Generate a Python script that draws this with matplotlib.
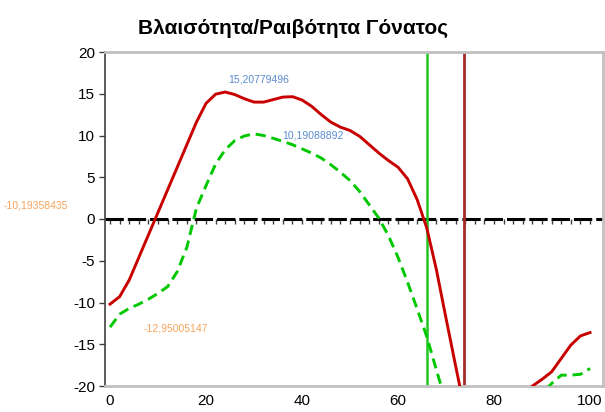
import numpy as np
import matplotlib
matplotlib.use("Agg")
import matplotlib.pyplot as plt

plt.rcParams['font.family'] = ['Liberation Sans', 'DejaVu Sans']
plt.rcParams['axes.unicode_minus'] = False

# gait cycle (%) every 2%
cycle = list(range(0, 101, 2))

# knee varus/valgus, left (red, solid)
red_vals = [-10.19358435, -9.3, -7.3, -4.6, -1.9, 0.8, 3.5, 6.2, 8.9, 11.6,
            13.85, 14.95, 15.20779496, 14.9, 14.4, 14.0, 14.0, 14.3, 14.6, 14.65,
            14.25, 13.5, 12.5, 11.6, 11.0, 10.6, 9.9, 8.9, 7.9, 7.0,
            6.2, 4.8, 2.3, -1.1, -6.1, -11.9, -17.6, -23.2, -26.5, -28.5,
            -28.0, -26.5, -24.0, -21.3, -20.0, -19.2, -18.3, -16.7, -15.1, -14.0,
            -13.6]

# knee varus/valgus, right (green, dashed)
green_vals = [-12.95005147, -11.4, -10.7, -10.2, -9.6, -8.9, -8.1, -6.3, -3.4, 1.3,
              4.0, 6.6, 8.3, 9.4, 9.95, 10.19088892, 10.0, 9.66, 9.3, 8.9,
              8.4, 7.9, 7.3, 6.5, 5.6, 4.6, 3.3, 1.7, 0.1, -2.0,
              -4.6, -7.6, -10.8, -14.1, -18.1, -22.0, -25.0, -27.5, -29.0, -29.5,
              -29.0, -27.5, -25.5, -23.5, -22.0, -20.9, -19.7, -18.7, -18.7, -18.6,
              -17.9]

# toe-off markers
toe_off_green = 66
toe_off_red = 73.8

labels = [
    # (series, index, text, offset px, colour)
    (red_vals, 12, "15,20779496", (33, 13), "#5B8BD0"),
    (green_vals, 15, "10,19088892", (59, -2), "#5B8BD0"),
    (red_vals, 0, "-10,19358435", (-74, 99), "#F7A35C"),
    (green_vals, 0, "-12,95005147", (66, -1), "#F7A35C"),
]

fig = plt.figure(figsize=(6.05, 4.12), dpi=100)
ax = fig.add_axes([105 / 605, 1 - 386 / 412, 498 / 605, 334 / 412])

ax.axhline(0, color="black", lw=2.2, linestyle=(0, (6, 1.3)), zorder=1.5)
ax.plot(cycle, red_vals, color="#C80000", lw=2.1, solid_joinstyle="round", zorder=3)
ax.plot(cycle, green_vals, color="#00C800", lw=2.1, linestyle=(0, (3.5, 2.0)), zorder=3)
ax.axvline(toe_off_green, color="#22C422", lw=1.8, zorder=2)
ax.axvline(toe_off_red, color="#A52A2A", lw=2.0, zorder=2)

for ser, i, txt, off, col in labels:
    ax.annotate(txt, (cycle[i], ser[i]), xytext=off, textcoords="offset pixels",
                ha="center", va="center", fontsize=7.5, color=col,
                annotation_clip=False)

ax.set_xlim(-1.05, 102.7)
ax.set_ylim(-20, 20)
ax.set_yticks(range(-20, 21, 5))
ax.set_xticks(range(0, 101, 20))
ax.tick_params(axis="x", length=0, labelsize=11, pad=6)
ax.tick_params(axis="y", length=4, width=1, color="#404040", labelsize=11, pad=3)

for s in ["top", "right", "bottom"]:
    ax.spines[s].set_color("#C0C0C0")
    ax.spines[s].set_linewidth(2)
ax.spines["left"].set_color("#404040")
ax.spines["left"].set_linewidth(1.2)

# tick marks every 2% along the zero axis
sec = ax.secondary_xaxis(0.5)
sec.set_xticks(cycle)
sec.tick_params(axis="x", direction="in", length=3.5, width=1, color="#404040",
                labelbottom=False, labeltop=False)
for sp in sec.spines.values():
    sp.set_visible(False)

fig.text(293 / 605, 1 - 28 / 412, "Βλαισότητα/Ραιβότητα Γόνατος",
         ha="center", va="center", fontsize=15, fontweight="bold")

fig.savefig("out.png", dpi=100)
